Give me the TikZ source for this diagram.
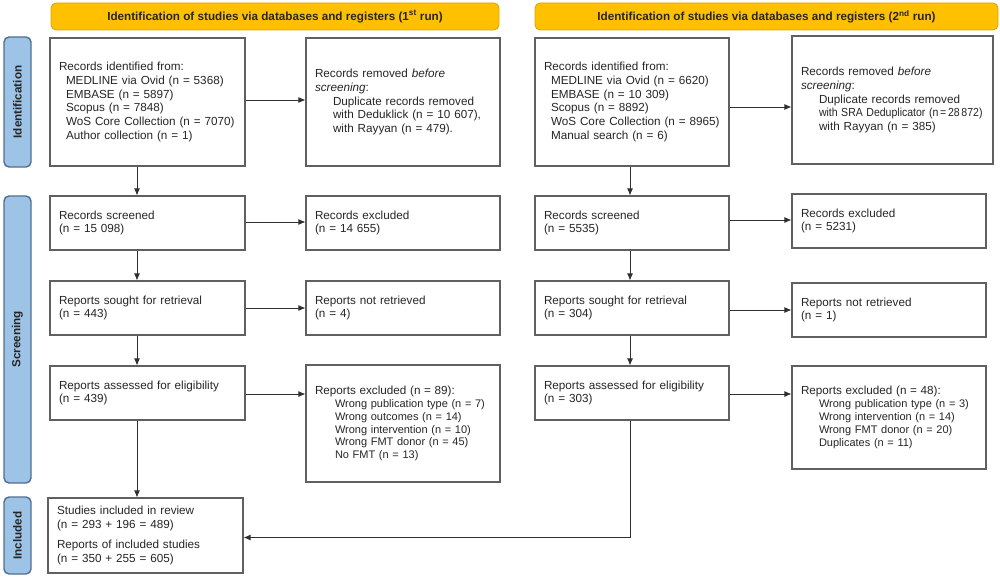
\documentclass[tikz,border=0pt]{standalone}
\usepackage{fontspec}
\usepackage{graphicx}
\setmainfont{Liberation Sans}
\usetikzlibrary{arrows.meta,calc}
\definecolor{boxline}{HTML}{606060}
\definecolor{txt}{HTML}{262626}
\definecolor{banfill}{HTML}{FFC000}
\definecolor{banline}{HTML}{D9A400}
\definecolor{labfill}{HTML}{9DC3E6}
\definecolor{labline}{HTML}{4F6F8F}
\definecolor{arrcol}{HTML}{303030}
\newcommand{\ind}{\hspace*{7pt}}
\newcommand{\indb}{\hspace*{18pt}}
\newcommand{\hdr}[1]{{\fontsize{11.7}{12.9}\selectfont #1}}
\begin{document}
\begin{tikzpicture}[x=1pt,y=-1pt,
  box/.style={draw=boxline, line width=1.1pt, fill=white, inner xsep=9pt, inner ysep=2pt,
    align=left, text=txt, font=\fontsize{11.7}{13.7}\selectfont},
  listbox/.style={box, font=\fontsize{11}{12.9}\selectfont},
  banner/.style={draw=banline, line width=0.8pt, fill=banfill, rounded corners=5pt,
    minimum height=27pt, text=txt, font=\fontsize{11.7}{13.7}\selectfont\bfseries},
  phase/.style={draw=labline, line width=1.4pt, fill=labfill, rounded corners=5pt,
    minimum width=27pt, text=txt, font=\fontsize{11.7}{13.7}\selectfont\bfseries},
  phasetext/.style={rotate=90, text=txt, font=\fontsize{11.7}{13.7}\selectfont\bfseries},
  arr/.style={draw=arrcol, line width=0.9pt, -{Latex[length=7pt,width=6pt]}},
  conn/.style={draw=arrcol, line width=0.9pt}]
\useasboundingbox (0,0) rectangle (1000,578);

% banners
\node[banner, minimum width=448pt] (ban1) at (275,16.5)
  {Identification of studies via databases and registers (1\textsuperscript{st} run)};
\node[banner, minimum width=463pt] (ban2) at (766.5,16.5)
  {Identification of studies via databases and registers (2\textsuperscript{nd} run)};

% phase labels
\node[phase, minimum height=130pt] (labId) at (17.5,102) {};
\node[phasetext] (labIdT) at (labId.center) {Identification};
\node[phase, minimum height=287pt] (labSc) at (17.5,339.5) {};
\node[phasetext] (labScT) at (labSc.center) {Screening};
\node[phase, minimum height=77pt] (labIn) at (17.5,535.5) {};
\node[phasetext] (labInT) at (labIn.center) {Included};

% ---------- first run ----------
\node[box, text width=177pt, minimum height=128pt] (A1) at (147.5,102) {%
Records identified from:\\
\ind MEDLINE via Ovid (n = 5368)\\
\ind EMBASE (n = 5897)\\
\ind Scopus (n = 7848)\\
\ind WoS Core Collection (n = 7070)\\
\ind Author collection (n = 1)};
\node[box, text width=176pt, minimum height=128pt] (B1) at (403,102) {%
Records removed \textit{before}\\
\textit{screening}:\\
\indb Duplicate records removed\\
\indb with Deduklick (n = 10 607),\\
\indb with Rayyan (n = 479).};

\node[box, text width=177pt, minimum height=54pt] (A2) at (147.5,223) {%
Records screened\\
(n = 15 098)};
\node[box, text width=176pt, minimum height=54pt] (B2) at (403,223) {%
Records excluded\\
(n = 14 655)};

\node[box, text width=177pt, minimum height=54pt] (A3) at (147.5,308) {%
Reports sought for retrieval\\
(n = 443)};
\node[box, text width=176pt, minimum height=54pt] (B3) at (403,308) {%
Reports not retrieved\\
(n = 4)};

\node[box, text width=177pt, minimum height=54pt] (A4) at (147.5,393) {%
Reports assessed for eligibility\\
(n = 439)};
\node[listbox, text width=176pt, minimum height=117pt] (B4) at (403,423.5) {%
\hdr{Reports excluded (n = 89):}\\
\hspace*{20pt}Wrong publication type (n = 7)\\
\hspace*{20pt}Wrong outcomes (n = 14)\\
\hspace*{20pt}Wrong intervention (n = 10)\\
\hspace*{20pt}Wrong FMT donor (n = 45)\\
\hspace*{20pt}No FMT (n = 13)};

\node[box, text width=177pt, minimum height=75pt] (Inc) at (145.5,535.5) {%
Studies included in review\\
(n = 293 + 196 = 489)\\[6pt]
Reports of included studies\\
(n = 350 + 255 = 605)};

% ---------- second run ----------
\node[box, text width=176pt, minimum height=128pt] (C1) at (632,102) {%
Records identified from:\\
\ind MEDLINE via Ovid (n = 6620)\\
\ind EMBASE (n = 10 309)\\
\ind Scopus (n = 8892)\\
\ind WoS Core Collection (n = 8965)\\
\ind Manual search (n = 6)};
\node[box, text width=183pt, minimum height=128pt] (D1) at (892.5,100) {%
Records removed \textit{before}\\
\textit{screening}:\\
\indb Duplicate records removed\\
\indb \scalebox{0.9}[1]{with SRA Deduplicator (n\,=\,28\,872)}\\
\indb with Rayyan (n = 385)};

\node[box, text width=176pt, minimum height=54pt] (C2) at (632,223) {%
Records screened\\
(n = 5535)};
\node[box, text width=176pt, minimum height=54pt] (D2) at (889,221) {%
Records excluded\\
(n = 5231)};

\node[box, text width=176pt, minimum height=54pt] (C3) at (632,308) {%
Reports sought for retrieval\\
(n = 304)};
\node[box, text width=176pt, minimum height=54pt] (D3) at (889,310) {%
Reports not retrieved\\
(n = 1)};

\node[box, text width=176pt, minimum height=54pt] (C4) at (632,393) {%
Reports assessed for eligibility\\
(n = 303)};
\node[listbox, text width=176pt, minimum height=103pt] (D4) at (889,417.5) {%
\hdr{Reports excluded (n = 48):}\\
\indb Wrong publication type (n = 3)\\
\indb Wrong intervention (n = 14)\\
\indb Wrong FMT donor (n = 20)\\
\indb Duplicates (n = 11)};

% ---------- connectors, first run ----------
\draw[arr] ([xshift=-10.5pt]A1.south) -- ([xshift=-10.5pt]A2.north);
\draw[arr] ([xshift=-10.5pt]A2.south) -- ([xshift=-10.5pt]A3.north);
\draw[arr] ([xshift=-10.5pt]A3.south) -- ([xshift=-10.5pt]A4.north);
\draw[arr] ([xshift=-10.5pt]A4.south) -- ([xshift=-8.5pt]Inc.north);
\draw[arr] ([yshift=2pt]A1.east) -- ([yshift=2pt]A1.east -| B1.west);
\draw[arr] ([yshift=1pt]A2.east) -- ([yshift=1pt]A2.east -| B2.west);
\draw[arr] (A3.east) -- (A3.east -| B3.west);
\draw[arr] ([yshift=-1pt]A4.east) -- ([yshift=-1pt]A4.east -| B4.west);

% ---------- connectors, second run ----------
\draw[arr] ([xshift=-2pt]C1.south) -- ([xshift=-2pt]C1.south |- C2.north);
\draw[arr] ([xshift=-2pt]C2.south) -- ([xshift=-2pt]C2.south |- C3.north);
\draw[arr] ([xshift=-2pt]C3.south) -- ([xshift=-2pt]C3.south |- C4.north);
\draw[arr] ([xshift=-2pt]C4.south) |- ([yshift=-2pt]Inc.east);
\draw[arr] ([yshift=-5pt]C1.east) -- ([yshift=-5pt]C1.east -| D1.west);
\draw[arr] ([yshift=3pt]C2.east) -- ([yshift=3pt]C2.east -| D2.west);
\draw[arr] ([yshift=-2pt]C3.east) -- ([yshift=-2pt]C3.east -| D3.west);
\draw[arr] ([yshift=-1pt]C4.east) -- ([yshift=-1pt]C4.east -| D4.west);
\end{tikzpicture}
\end{document}
